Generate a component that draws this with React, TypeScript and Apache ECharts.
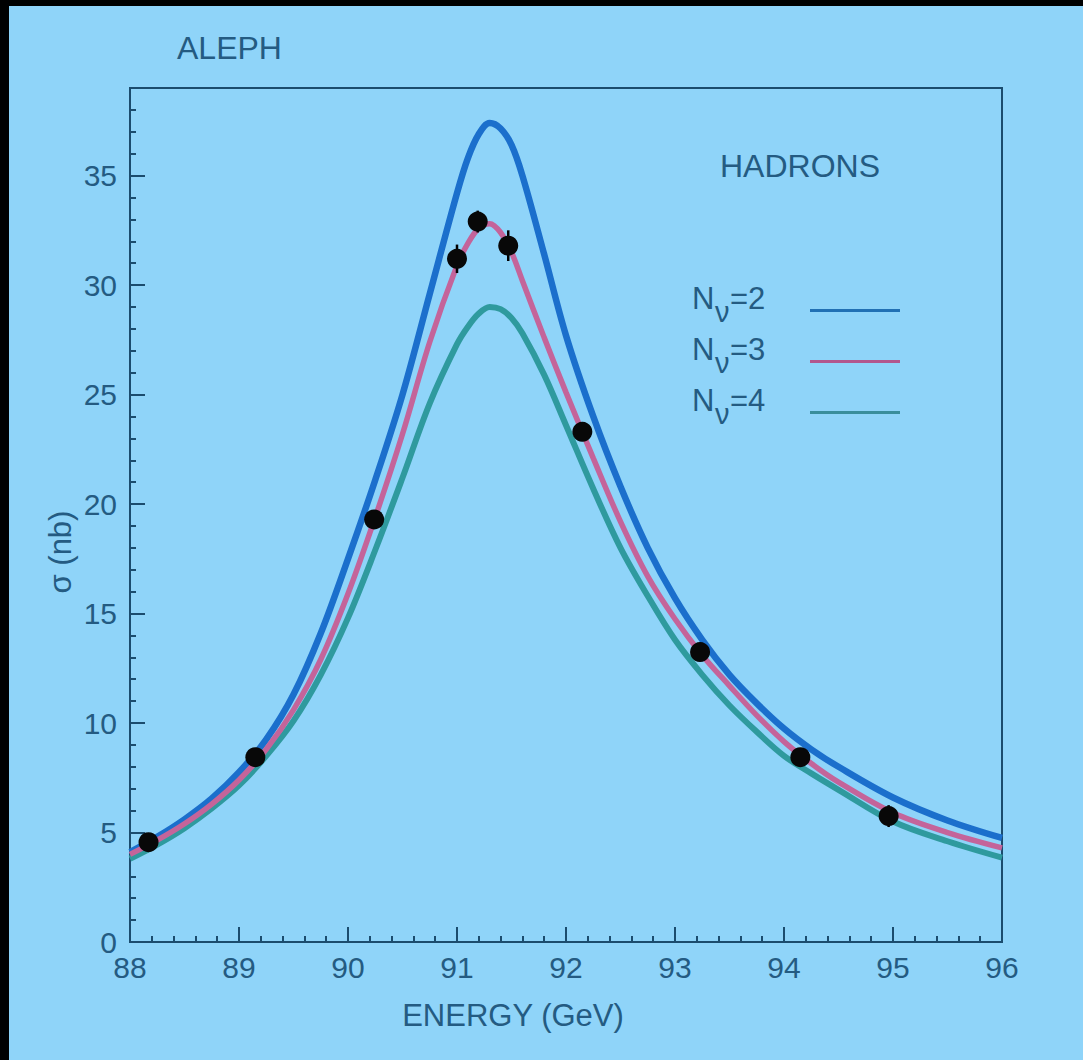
import React, { useEffect, useRef } from "react";
import * as echarts from "echarts";

// ---------- data ----------
const energyGrid = [
  88.0, 88.25, 88.5, 88.75, 89.0, 89.25, 89.5, 89.75, 90.0, 90.25, 90.5, 90.75,
  91.0, 91.1, 91.2, 91.3, 91.4, 91.5, 91.6, 91.8, 92.0, 92.25, 92.5, 92.75,
  93.0, 93.25, 93.5, 93.75, 94.0, 94.25, 94.5, 95.0, 95.5, 96.0,
];
const sigmaN2 = [
  4.1, 4.8, 5.6, 6.55, 7.75, 9.25, 11.3, 14.1, 17.5, 21.1, 25.0, 29.6,
  34.2, 35.8, 36.9, 37.4, 37.15, 36.4, 35.0, 31.4, 27.7, 24.0, 20.8, 18.0,
  15.7, 13.8, 12.2, 10.9, 9.75, 8.8, 8.0, 6.6, 5.55, 4.75,
];
const sigmaN3 = [
  4.0, 4.65, 5.4, 6.3, 7.4, 8.8, 10.6, 12.9, 15.9, 19.4, 23.2, 27.4,
  30.9, 31.9, 32.6, 32.8, 32.4, 31.5, 30.2, 27.6, 25.1, 22.1, 19.2, 16.7,
  14.75, 13.1, 11.7, 10.35, 9.15, 8.15, 7.3, 5.9, 5.0, 4.3,
];
const sigmaN4 = [
  3.8, 4.45, 5.2, 6.1, 7.15, 8.5, 10.1, 12.2, 14.8, 17.9, 21.2, 24.6,
  27.3, 28.1, 28.7, 29.0, 28.9, 28.5, 27.8, 25.9, 23.6, 20.7, 18.0, 15.8,
  13.8, 12.2, 10.8, 9.6, 8.5, 7.7, 6.95, 5.5, 4.6, 3.85,
];
const dataEnergy = [88.17, 89.15, 90.24, 91.0, 91.19, 91.47, 92.15, 93.23, 94.15, 94.96];
const dataSigma = [4.56, 8.44, 19.3, 31.2, 32.9, 31.8, 23.3, 13.24, 8.44, 5.75];
const dataError = [0.15, 0.2, 0.35, 0.65, 0.5, 0.7, 0.4, 0.3, 0.25, 0.5];

const xTickLabels = [88, 89, 90, 91, 92, 93, 94, 95, 96];
const yTickLabels = [0, 5, 10, 15, 20, 25, 30, 35];
const legendLabels = ["2", "3", "4"];

// ---------- styles ----------
const BG = "#8fd4f9";
const AXIS = "#1b4c6e";
const TXT = "#245b82";
const FONT = "'Liberation Sans', Arial, sans-serif";
const C2 = "#1b6fcc";
const C3 = "#c4649a";
const C4 = "#2f9a9e";
const LEG = ["#2170b4", "#b2578e", "#3a8e9c"];

function pairs(xs: number[], ys: number[]) {
  return xs.map((x, i) => [x, ys[i]]);
}

export default function App() {
  const ref = useRef<HTMLDivElement>(null);
  useEffect(() => {
    if (!ref.current) return;
    const chart = echarts.init(ref.current, null, { renderer: "svg" });

    const xMinor: number[] = [];
    for (let i = 0; i < xTickLabels.length - 1; i++) {
      for (let k = 1; k < 5; k++) xMinor.push(+(xTickLabels[i] + k * 0.2).toFixed(2));
    }
    const yMinor: number[] = [];
    for (let v = 1; v <= 39; v++) if (v % 5 !== 0) yMinor.push(v);

    const legendGraphics: any[] = [];
    legendLabels.forEach((lab, i) => {
      const cy = 298.5 + i * 51;
      legendGraphics.push(
        { type: "text", x: 692, y: cy, style: { text: "N", fill: TXT, font: `31px ${FONT}`, verticalAlign: "middle", align: "left" } },
        { type: "text", x: 715, y: cy + 13, style: { text: "ν", fill: TXT, font: `29px ${FONT}`, verticalAlign: "middle", align: "left" } },
        { type: "text", x: 730, y: cy, style: { text: "=" + lab, fill: TXT, font: `31px ${FONT}`, verticalAlign: "middle", align: "left" } },
        { type: "line", shape: { x1: 810, y1: cy + 12, x2: 900, y2: cy + 12 }, style: { stroke: LEG[i], lineWidth: 3 } }
      );
    });

    const lineSeries = (name: string, ys: number[], color: string, width: number, z: number) => ({
      name, type: "line", xAxisIndex: 0, yAxisIndex: 0, data: pairs(energyGrid, ys),
      smooth: 0.35, showSymbol: false, symbol: "none", lineStyle: { color, width }, z,
    });

    const option: any = {
      animation: false,
      backgroundColor: BG,
      grid: {
        left: 130, top: 88, right: 81, bottom: 118,
        show: true, borderColor: AXIS, borderWidth: 2, backgroundColor: "transparent",
      },
      xAxis: [
        {
          type: "value", min: 88, max: 96, position: "bottom",
          axisLine: { show: true, onZero: false, lineStyle: { color: AXIS, width: 2 } },
          axisTick: { show: true, inside: true, length: 15, customValues: xTickLabels, lineStyle: { color: AXIS, width: 2 } },
          axisLabel: { show: true, customValues: xTickLabels, color: TXT, fontSize: 30, fontFamily: FONT, margin: 10 },
          splitLine: { show: false },
        },
        {
          type: "value", min: 88, max: 96, position: "bottom",
          axisLine: { show: false },
          axisTick: { show: true, inside: true, length: 6, customValues: xMinor, lineStyle: { color: AXIS, width: 2 } },
          axisLabel: { show: false },
          splitLine: { show: false },
        },
      ],
      yAxis: [
        {
          type: "value", min: 0, max: 39, position: "left",
          axisLine: { show: true, onZero: false, lineStyle: { color: AXIS, width: 2 } },
          axisTick: { show: true, inside: true, length: 15, customValues: yTickLabels, lineStyle: { color: AXIS, width: 2 } },
          axisLabel: {
            show: true, customValues: yTickLabels, color: TXT, fontSize: 30, fontFamily: FONT,
            margin: 13, padding: [0, 0, 20, 0],
          },
          splitLine: { show: false },
        },
        {
          type: "value", min: 0, max: 39, position: "left",
          axisLine: { show: false },
          axisTick: { show: true, inside: true, length: 6, customValues: yMinor, lineStyle: { color: AXIS, width: 2 } },
          axisLabel: { show: false },
          splitLine: { show: false },
        },
      ],
      graphic: [
        { type: "rect", shape: { x: 0, y: 0, width: 1083, height: 6 }, style: { fill: "#000" } },
        { type: "rect", shape: { x: 0, y: 0, width: 9, height: 1060 }, style: { fill: "#000" } },
        { type: "text", x: 177, y: 48, style: { text: "ALEPH", fill: TXT, font: `32px ${FONT}`, verticalAlign: "middle", align: "left" } },
        { type: "text", x: 720, y: 166, style: { text: "HADRONS", fill: TXT, font: `32px ${FONT}`, verticalAlign: "middle", align: "left" } },
        { type: "text", x: 513, y: 1015, style: { text: "ENERGY (GeV)", fill: TXT, font: `31px ${FONT}`, verticalAlign: "middle", align: "center" } },
        { type: "text", x: 60, y: 552, rotation: Math.PI / 2, style: { text: "σ (nb)", fill: TXT, font: `31px ${FONT}`, verticalAlign: "middle", align: "center" } },
        ...legendGraphics,
      ],
      series: [
        lineSeries("Nν=2", sigmaN2, C2, 6.5, 2),
        lineSeries("Nν=4", sigmaN4, C4, 6, 3),
        lineSeries("Nν=3", sigmaN3, C3, 5.5, 4),
        {
          name: "errors", type: "custom", xAxisIndex: 0, yAxisIndex: 0, z: 5,
          data: dataEnergy.map((e, i) => [e, dataSigma[i], dataSigma[i] - dataError[i], dataSigma[i] + dataError[i]]),
          renderItem: (params: any, api: any) => {
            const p1 = api.coord([api.value(0), api.value(2)]);
            const p2 = api.coord([api.value(0), api.value(3)]);
            return {
              type: "line",
              shape: { x1: p1[0], y1: p1[1], x2: p2[0], y2: p2[1] },
              style: { stroke: "#000", lineWidth: 2.5 },
            };
          },
        },
        {
          name: "data", type: "scatter", xAxisIndex: 0, yAxisIndex: 0, z: 6,
          data: pairs(dataEnergy, dataSigma), symbol: "circle", symbolSize: 20,
          itemStyle: { color: "#080808", opacity: 1 },
        },
      ],
    };
    chart.setOption(option);
    return () => chart.dispose();
  }, []);
  return (
    <div
      ref={ref}
      style={{ position: "absolute", left: 0, top: 0, width: 1083, height: 1060 }}
    />
  );
}
